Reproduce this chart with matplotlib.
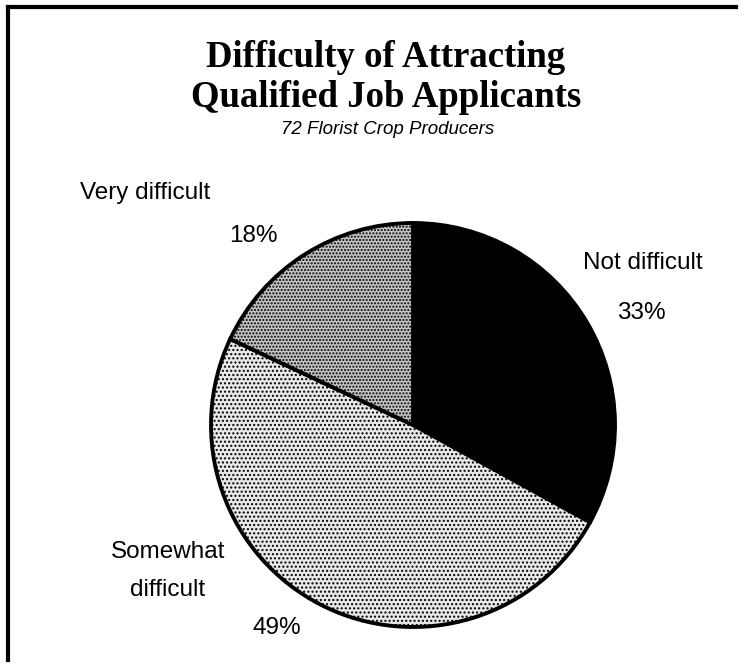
import matplotlib
matplotlib.use("Agg")
import matplotlib.pyplot as plt
from matplotlib.lines import Line2D

# Survey answers
categories = ["Not difficult", "Somewhat\ndifficult", "Very difficult"]
shares = [33, 49, 18]
title = "Difficulty of Attracting\nQualified Job Applicants"
subtitle = "72 Florist Crop Producers"

W, H = 745, 665
fig = plt.figure(figsize=(W / 100, H / 100), dpi=100)
ax = fig.add_axes([0, 0, 1, 1])
ax.set_aspect("equal")
ax.axis("off")

def py(y):
    # pixel row from the top -> data y
    return H - y

plt.rcParams["hatch.linewidth"] = 1.0
plt.rcParams["hatch.color"] = "#333333"

wedges, _ = ax.pie(shares, center=(413, py(425)), radius=202, startangle=90,
                   counterclock=False, colors=["black", "#e8e8e8", "#c4c4c4"],
                   wedgeprops=dict(edgecolor="black", linewidth=2.8))
wedges[1].set_hatch("....")
wedges[2].set_hatch(".....")
ax.set_xlim(0, W)
ax.set_ylim(0, H)

# frame (top and left only)
ax.add_line(Line2D([8, 736], [py(7), py(7)], color="black", lw=3))
ax.add_line(Line2D([8, 8], [py(7), py(660)], color="black", lw=3))

ax.text(386, py(107), title, ha="center", va="baseline", family="Liberation Serif",
        fontsize=26.5, fontweight="bold", linespacing=1.18)
ax.text(388, py(129), subtitle, ha="center", va="center", style="italic",
        family=["Liberation Sans Narrow", "Liberation Sans"], fontsize=13.5)

sans = dict(family="Liberation Sans", fontsize=17.5, ha="center", va="center")
labels = {
    0: ((643, 263), (641, 313)),
    1: ((168, 571), (277, 628)),
    2: ((145, 193), (253, 236)),
}
for i, ((nx, ny), (vx, vy)) in labels.items():
    ax.text(nx, py(ny), categories[i], linespacing=1.9, **sans)
    ax.text(vx, py(vy), f"{shares[i]}%", **sans)

fig.savefig("out.png", dpi=100, facecolor="white")
